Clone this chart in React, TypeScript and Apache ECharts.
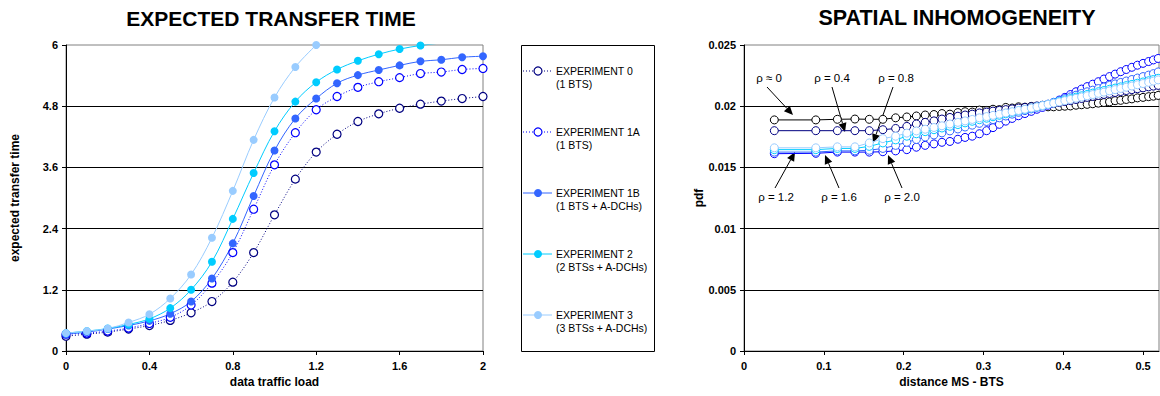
import React, { useEffect, useRef } from "react";
import * as echarts from "echarts";

// ---------- LEFT CHART DATA ----------
const LOAD = [0, 0.1, 0.2, 0.3, 0.4, 0.5, 0.6, 0.7, 0.8, 0.9, 1.0, 1.1, 1.2, 1.3, 1.4, 1.5, 1.6, 1.7, 1.8, 1.9, 2.0];
const EXP0 = [0.29, 0.33, 0.37, 0.43, 0.5, 0.6, 0.75, 0.97, 1.35, 1.93, 2.67, 3.37, 3.9, 4.25, 4.5, 4.65, 4.76, 4.84, 4.9, 4.95, 4.99];
const EXP1A = [0.33, 0.35, 0.39, 0.45, 0.54, 0.66, 0.9, 1.33, 1.93, 2.78, 3.65, 4.28, 4.73, 4.99, 5.17, 5.28, 5.36, 5.44, 5.47, 5.52, 5.54];
const EXP1B = [0.33, 0.37, 0.43, 0.5, 0.59, 0.73, 0.97, 1.42, 2.11, 3.04, 3.93, 4.56, 4.95, 5.25, 5.41, 5.51, 5.6, 5.68, 5.71, 5.76, 5.78];
const EXP2 = [0.35, 0.39, 0.44, 0.52, 0.63, 0.84, 1.2, 1.75, 2.59, 3.49, 4.31, 4.89, 5.27, 5.52, 5.69, 5.82, 5.92, 5.99, 6.04];
const EXP3 = [0.35, 0.39, 0.44, 0.56, 0.72, 1.03, 1.5, 2.22, 3.14, 4.14, 4.97, 5.57, 6.0];
const LEFT_NAMES = ["EXPERIMENT 0\n(1 BTS)", "EXPERIMENT 1A\n(1 BTS)", "EXPERIMENT 1B\n(1 BTS + A-DCHs)", "EXPERIMENT 2\n(2 BTSs + A-DCHs)", "EXPERIMENT 3\n(3 BTSs + A-DCHs)"];

// ---------- RIGHT CHART DATA ----------
const DIST = [0.038, 0.09, 0.117, 0.139, 0.157, 0.174, 0.19, 0.204, 0.216, 0.227, 0.238, 0.248, 0.258, 0.268, 0.277, 0.286, 0.295, 0.304, 0.312, 0.32, 0.328, 0.336, 0.344, 0.352, 0.36, 0.367, 0.374, 0.381, 0.388, 0.395, 0.402, 0.409, 0.416, 0.423, 0.43, 0.437, 0.444, 0.451, 0.458, 0.465, 0.472, 0.479, 0.486, 0.493, 0.5, 0.507, 0.513, 0.519];
const RHO_0 = [0.01888, 0.01888, 0.01893, 0.01895, 0.01893, 0.01893, 0.01905, 0.01912, 0.0192, 0.01928, 0.01932, 0.0194, 0.01935, 0.01948, 0.01955, 0.01952, 0.01968, 0.01965, 0.01975, 0.01972, 0.0199, 0.01985, 0.01995, 0.01992, 0.01998, 0.01995, 0.02, 0.01995, 0.01995, 0.01998, 0.02, 0.02002, 0.02008, 0.02012, 0.02015, 0.0202, 0.02025, 0.0203, 0.02035, 0.02045, 0.02048, 0.02055, 0.0206, 0.02068, 0.02072, 0.02078, 0.02082, 0.02088];
const RHO_04 = [0.018, 0.018, 0.018, 0.018, 0.018, 0.01808, 0.01818, 0.01835, 0.01855, 0.01868, 0.0188, 0.01895, 0.01908, 0.01918, 0.01928, 0.01935, 0.01945, 0.01952, 0.0196, 0.01966, 0.01972, 0.01978, 0.01985, 0.0199, 0.01996, 0.02002, 0.02008, 0.02015, 0.02022, 0.0203, 0.02038, 0.02046, 0.02055, 0.02063, 0.02072, 0.0208, 0.02088, 0.02096, 0.02104, 0.02112, 0.0212, 0.02128, 0.02135, 0.02143, 0.0215, 0.02158, 0.02164, 0.0217];
const RHO_08 = [0.0166, 0.0166, 0.01668, 0.01668, 0.017, 0.01735, 0.01755, 0.0178, 0.01798, 0.01812, 0.01826, 0.0184, 0.01855, 0.01868, 0.0188, 0.01892, 0.01905, 0.01915, 0.01925, 0.01935, 0.01945, 0.01955, 0.01965, 0.01975, 0.01985, 0.01995, 0.02005, 0.02015, 0.02025, 0.02035, 0.02045, 0.02055, 0.02065, 0.02075, 0.02085, 0.02095, 0.02105, 0.02115, 0.02125, 0.02135, 0.02145, 0.02155, 0.02165, 0.02175, 0.02185, 0.02195, 0.02205, 0.02215];
const RHO_12 = [0.01645, 0.01645, 0.01655, 0.01655, 0.01672, 0.017, 0.01725, 0.01755, 0.01775, 0.01792, 0.01808, 0.01822, 0.01836, 0.0185, 0.01864, 0.01877, 0.0189, 0.01902, 0.01914, 0.01926, 0.01938, 0.0195, 0.01962, 0.01973, 0.01984, 0.01994, 0.02004, 0.02015, 0.02027, 0.02039, 0.02051, 0.02062, 0.02074, 0.02085, 0.02096, 0.02107, 0.02118, 0.02128, 0.02138, 0.02148, 0.02158, 0.02168, 0.02178, 0.02188, 0.02198, 0.02208, 0.02218, 0.02228];
const RHO_16 = [0.01625, 0.01625, 0.01635, 0.01635, 0.0164, 0.01655, 0.0168, 0.01705, 0.01728, 0.01748, 0.01765, 0.01782, 0.01798, 0.01814, 0.0183, 0.01845, 0.0186, 0.01875, 0.0189, 0.01905, 0.0192, 0.01935, 0.0195, 0.01964, 0.01978, 0.01991, 0.02004, 0.02017, 0.02032, 0.02047, 0.02062, 0.02076, 0.0209, 0.02104, 0.02118, 0.02131, 0.02144, 0.02157, 0.0217, 0.02182, 0.02194, 0.02206, 0.02218, 0.0223, 0.02242, 0.02254, 0.02266, 0.0228];
const RHO_20 = [0.01612, 0.01615, 0.01625, 0.01625, 0.01625, 0.01628, 0.01635, 0.01645, 0.01665, 0.0168, 0.01692, 0.01705, 0.01712, 0.0173, 0.01745, 0.01755, 0.01775, 0.018, 0.01825, 0.01852, 0.01878, 0.019, 0.01922, 0.0194, 0.01958, 0.01975, 0.0199, 0.02008, 0.02028, 0.0205, 0.02072, 0.02095, 0.02118, 0.0214, 0.0216, 0.0218, 0.022, 0.02222, 0.02242, 0.02262, 0.02282, 0.023, 0.02318, 0.02335, 0.0235, 0.02365, 0.02378, 0.0239];
const RHO_LABELS = ["ρ ≈ 0", "ρ = 0.4", "ρ = 0.8", "ρ = 1.2", "ρ = 1.6", "ρ = 2.0"];
const RIGHT_XTICKS = [0, 0.1, 0.2, 0.3, 0.4, 0.5];

const FONT = "'Liberation Sans', Arial, Helvetica, sans-serif";

// layout/styling (not data)
const LEFT_STYLES = [
  { color: "#000080", open: true, dash: [1, 2] },
  { color: "#0000ff", open: true, dash: [1, 2] },
  { color: "#3366ff", open: false, dash: "solid" },
  { color: "#00ccff", open: false, dash: "solid" },
  { color: "#99ccff", open: false, dash: "solid" },
];
const RIGHT_COLORS = ["#000000", "#000080", "#0000ff", "#3366ff", "#00ccff", "#99ccff"];
// annotation geometry: [textX, textY, arrowStartX, arrowStartY, tipX, tipY]
const ANNOT_GEOM = [
  [769, 78, 767, 87, 793, 115],
  [832, 78, 832, 87, 845, 132],
  [896, 78, 893, 87, 873, 143],
  [776, 197, 775, 188, 795, 152],
  [839, 197, 839, 188, 825, 155],
  [902, 197, 902, 188, 888, 155],
];

function pairs(xs: number[], ys: number[]) {
  return ys.map((y, i) => [xs[i], y]);
}

function arrow(x1: number, y1: number, x2: number, y2: number) {
  const a = Math.atan2(y2 - y1, x2 - x1);
  const L = 9, W = 4;
  const c = Math.cos(a), s = Math.sin(a);
  const bx = x2 - L * c, by = y2 - L * s;
  return [
    { type: "line", silent: true, shape: { x1, y1, x2: bx, y2: by }, style: { stroke: "#000", lineWidth: 1 } },
    { type: "polygon", silent: true, shape: { points: [[x2, y2], [bx + W * s, by - W * c], [bx - W * s, by + W * c]] }, style: { fill: "#000" } },
  ];
}

export default function App() {
  const ref = useRef<HTMLDivElement>(null);
  useEffect(() => {
    if (!ref.current) return;
    const chart = echarts.init(ref.current, null, { renderer: "svg" });

    const leftData = [EXP0, EXP1A, EXP1B, EXP2, EXP3];
    const leftSeries = leftData.map((ys, i) => {
      const st = LEFT_STYLES[i];
      return {
        type: "line",
        name: LEFT_NAMES[i],
        xAxisIndex: 0,
        yAxisIndex: 0,
        data: pairs(LOAD, ys),
        smooth: 0.35,
        symbol: "circle",
        symbolSize: 8,
        clip: true,
        itemStyle: st.open
          ? { color: "#fff", borderColor: st.color, borderWidth: 1.2 }
          : { color: st.color, borderColor: st.color, borderWidth: 0 },
        lineStyle: { color: st.color, width: 1, type: st.dash },
      };
    });

    const rightData = [RHO_0, RHO_04, RHO_20, RHO_16, RHO_12, RHO_08];
    const rightNames = [RHO_LABELS[0], RHO_LABELS[1], RHO_LABELS[5], RHO_LABELS[4], RHO_LABELS[3], RHO_LABELS[2]];
    const rightSeries = rightData.map((ys, i) => ({
      type: "line",
      name: rightNames[i],
      xAxisIndex: 1,
      yAxisIndex: 1,
      data: pairs(DIST, ys),
      symbol: "circle",
      symbolSize: 8,
      itemStyle: { color: "#fff", borderColor: RIGHT_COLORS[i], borderWidth: 1 },
      lineStyle: { color: RIGHT_COLORS[i], width: 1 },
    }));

    const graphics: any[] = [];
    graphics.push({
      type: "text", x: 271, y: 18, silent: true,
      style: { text: "EXPECTED TRANSFER TIME", font: `bold 21px ${FONT}`, textAlign: "center", textVerticalAlign: "middle", fill: "#000" },
    });
    graphics.push({
      type: "text", x: 957, y: 18, silent: true,
      style: { text: "SPATIAL INHOMOGENEITY", font: `bold 21.5px ${FONT}`, textAlign: "center", textVerticalAlign: "middle", fill: "#000" },
    });
    // legend box
    graphics.push({
      type: "rect", silent: true,
      shape: { x: 521.5, y: 45.5, width: 133, height: 306 },
      style: { fill: "#fff", stroke: "#000", lineWidth: 1 },
    });
    LEFT_NAMES.forEach((name, i) => {
      const st = LEFT_STYLES[i];
      const cy = 71 + i * 61;
      graphics.push({
        type: "line", silent: true,
        shape: { x1: 523, y1: cy, x2: 552, y2: cy },
        style: { stroke: st.color, lineWidth: 1, lineDash: st.open ? [1, 2] : null },
      });
      graphics.push({
        type: "circle", silent: true,
        shape: { cx: 538, cy, r: 4 },
        style: st.open ? { fill: "#fff", stroke: st.color, lineWidth: 1.2 } : { fill: st.color },
      });
      graphics.push({
        type: "text", silent: true, x: 556, y: cy - 6.5,
        style: { text: name, font: `10.5px ${FONT}`, lineHeight: 12.7, textVerticalAlign: "top", fill: "#000" },
      });
    });
    // annotations on right chart
    RHO_LABELS.forEach((lab, i) => {
      const g = ANNOT_GEOM[i];
      graphics.push({
        type: "text", silent: true, x: g[0], y: g[1],
        style: { text: lab, font: `11.5px ${FONT}`, textAlign: "center", textVerticalAlign: "middle", fill: "#000" },
      });
      graphics.push(...arrow(g[2], g[3], g[4], g[5]));
    });

    const axisLabel = { color: "#000", fontWeight: "bold", fontSize: 11, fontFamily: FONT };
    const nameStyle = { color: "#000", fontWeight: "bold", fontSize: 12, fontFamily: FONT };

    chart.setOption({
      animation: false,
      backgroundColor: "#fff",
      grid: [
        { left: 66, top: 45, width: 417, height: 306, show: true, borderColor: "#808080", borderWidth: 1 },
        { left: 744, top: 45, width: 415, height: 306, show: true, borderColor: "#808080", borderWidth: 1 },
      ],
      xAxis: [
        {
          gridIndex: 0, type: "value", min: 0, max: 2, interval: 0.4,
          axisLine: { show: true, onZero: false, lineStyle: { color: "#000", width: 1 } },
          axisTick: { show: true, length: 4, lineStyle: { color: "#000" } },
          axisLabel: { ...axisLabel, margin: 9 },
          splitLine: { show: false },
          name: "data traffic load", nameLocation: "middle", nameGap: 23, nameTextStyle: nameStyle,
        },
        {
          gridIndex: 1, type: "value", min: 0, max: 0.52, interval: 0.1,
          axisLine: { show: true, onZero: false, lineStyle: { color: "#000", width: 1 } },
          axisTick: { show: true, length: 4, lineStyle: { color: "#000" }, customValues: RIGHT_XTICKS },
          axisLabel: { ...axisLabel, margin: 9, customValues: RIGHT_XTICKS },
          splitLine: { show: false },
          name: "distance MS - BTS", nameLocation: "middle", nameGap: 23, nameTextStyle: nameStyle,
        },
      ],
      yAxis: [
        {
          gridIndex: 0, type: "value", min: 0, max: 6, interval: 1.2,
          axisLine: { show: true, onZero: false, lineStyle: { color: "#000", width: 1 } },
          axisTick: { show: true, length: 4, lineStyle: { color: "#000" } },
          axisLabel: { ...axisLabel, margin: 8 },
          splitLine: { show: true, showMinLine: false, showMaxLine: false, lineStyle: { color: "#000", width: 1 } },
          name: "expected transfer time", nameLocation: "middle", nameGap: 45, nameTextStyle: nameStyle,
        },
        {
          gridIndex: 1, type: "value", min: 0, max: 0.025, interval: 0.005,
          axisLine: { show: true, onZero: false, lineStyle: { color: "#000", width: 1 } },
          axisTick: { show: true, length: 4, lineStyle: { color: "#000" } },
          axisLabel: { ...axisLabel, margin: 8 },
          splitLine: { show: true, showMinLine: false, showMaxLine: false, lineStyle: { color: "#000", width: 1 } },
          name: "pdf", nameLocation: "middle", nameGap: 20, nameTextStyle: nameStyle,
        },
      ],
      series: [...leftSeries, ...rightSeries],
      graphic: graphics,
    });

    return () => chart.dispose();
  }, []);

  return (
    <div
      ref={ref}
      style={{ position: "fixed", left: 0, top: 0, width: 1160, height: 396, background: "#fff" }}
    />
  );
}
